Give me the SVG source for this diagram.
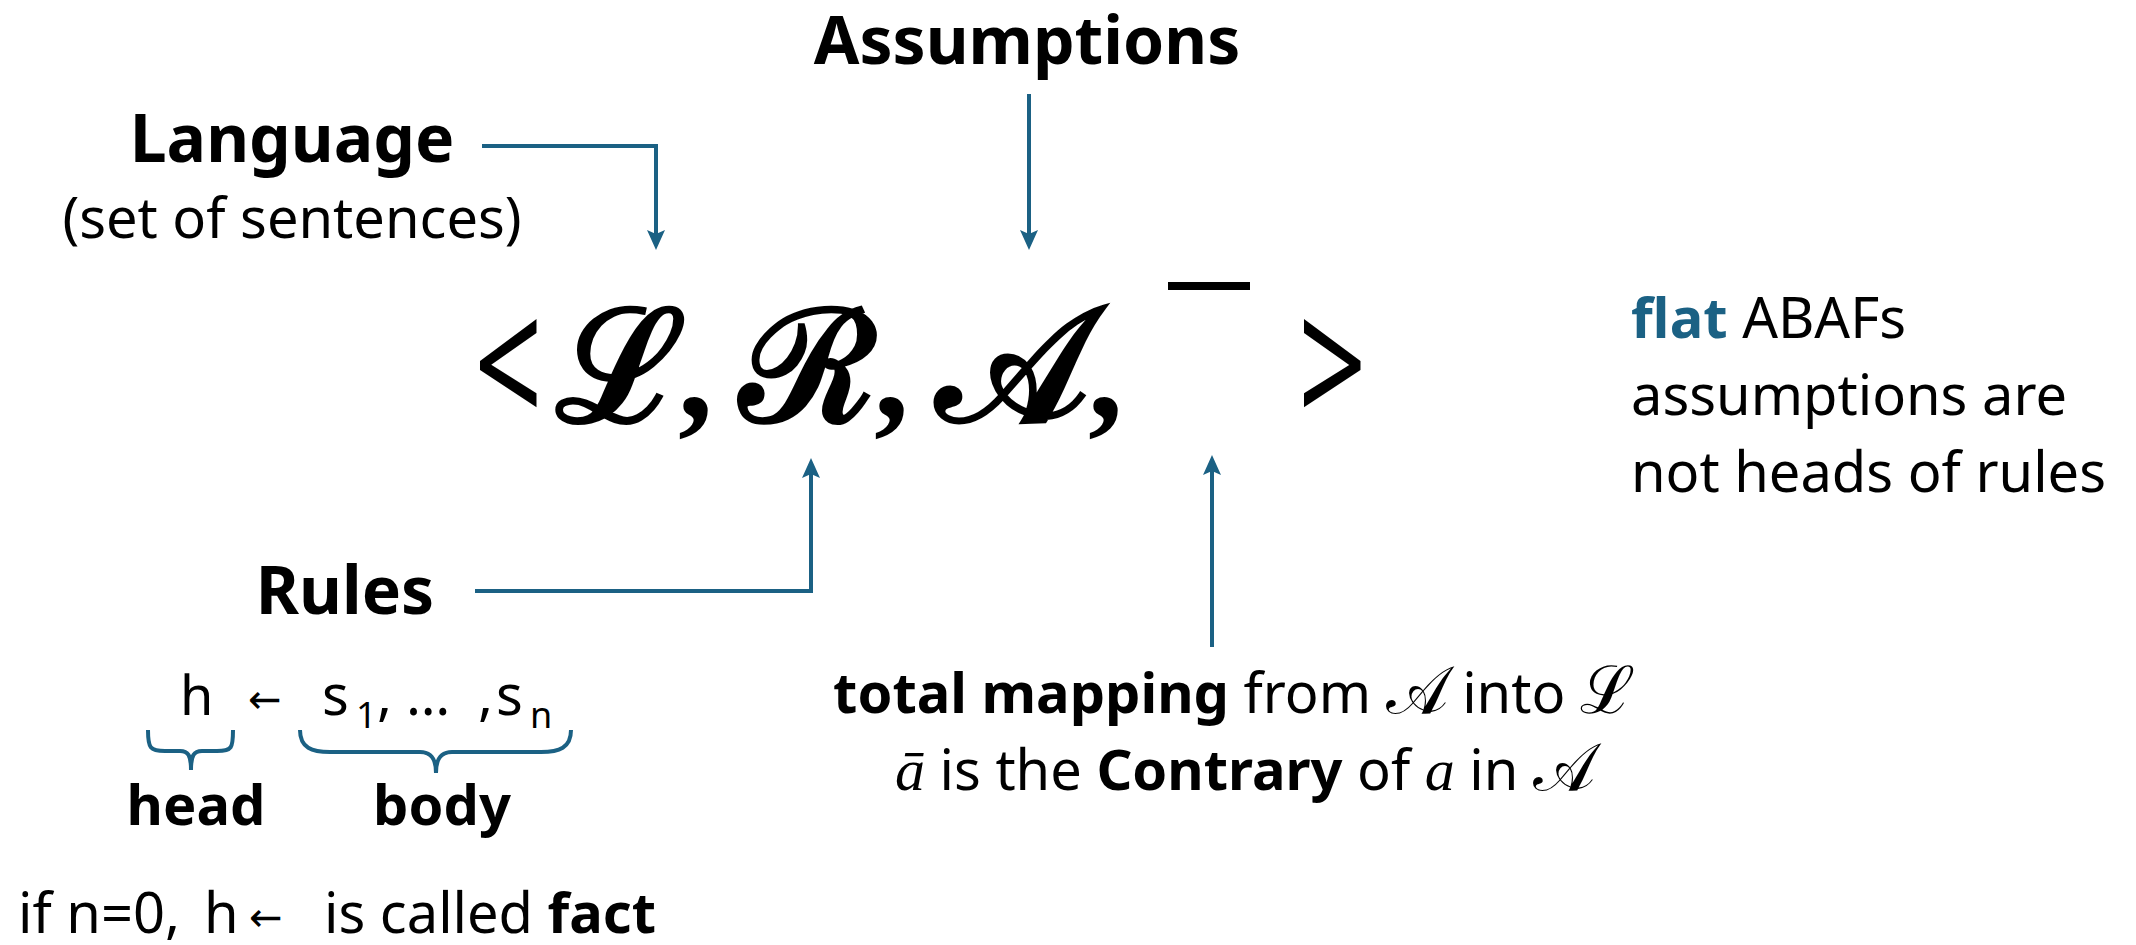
<svg xmlns="http://www.w3.org/2000/svg" width="2136" height="945" viewBox="0 0 2136 945">
<style>
.t{font-family:"Noto Sans","Liberation Sans",sans-serif;fill:#000}
.b{font-weight:bold}
.m{font-family:"DejaVu Serif","Noto Sans CJK SC",serif;fill:#000}
.sym{font-family:"DejaVu Sans",sans-serif;fill:#000}
.it{font-family:"Liberation Serif",serif;font-style:italic;fill:#000}
.cm{font-family:"Liberation Serif",serif;font-weight:bold;fill:#000}
.c{fill:none;stroke:#1B6184;stroke-width:4}
.br{fill:none;stroke:#1B6184;stroke-width:4;stroke-linecap:butt}
</style>
<defs>
<marker id="ah" markerUnits="userSpaceOnUse" markerWidth="22" markerHeight="20" viewBox="0 -10 22 20" refX="4" refY="0" orient="auto">
<path d="M20,0 L0,-9 L4,0 L0,9 Z" fill="#1B6184"/>
</marker>
</defs>
<rect width="2136" height="945" fill="#fff"/>
<g id="connectors">
<path class="c" d="M482,146 H656 V234" marker-end="url(#ah)"/>
<path class="c" d="M1029,94 V234" marker-end="url(#ah)"/>
<path class="c" d="M475,591 H811 V474" marker-end="url(#ah)"/>
<path class="c" d="M1212,647 V471" marker-end="url(#ah)"/>
</g>
<g id="assumptions"><text class="t b" x="1027" y="64" font-size="66" text-anchor="middle">Assumptions</text></g>
<g id="language">
<text class="t b" x="292" y="162" font-size="66" text-anchor="middle">Language</text>
<text class="t" x="292" y="238" font-size="56" text-anchor="middle">(set of sentences)</text>
</g>
<g id="tuple">
<text class="t" x="474" y="412" font-size="120" transform="translate(0,379) scale(1,1.5) translate(0,-379)">&lt;</text>
<text class="m" x="556" y="421" font-size="156" font-weight="bold">ℒ</text>
<text class="cm" x="678" y="418" font-size="140">,</text>
<text class="m" x="740" y="421" font-size="156" font-weight="bold">ℛ</text>
<text class="cm" x="874" y="418" font-size="140">,</text>
<text class="m" x="936" y="421" font-size="162" font-weight="bold">𝒜</text>
<text class="cm" x="1088" y="418" font-size="140">,</text>
<rect x="1168" y="282" width="82" height="8" fill="#000"/>
<text class="t" x="1298" y="412" font-size="120" transform="translate(0,379) scale(1,1.5) translate(0,-379)">&gt;</text>
</g>
<g id="rules">
<text class="t b" x="345" y="614" font-size="66" text-anchor="middle">Rules</text>
<text class="t" x="180" y="715" font-size="54">h</text>
<text class="sym" x="248" y="713" font-size="40">←</text>
<text class="t" x="322" y="715" font-size="56">s</text>
<text class="t" x="356" y="728" font-size="36">1</text>
<text class="t" x="377" y="715" font-size="56">,</text>
<text class="t" x="406" y="715" font-size="56">…</text>
<text class="t" x="478" y="715" font-size="56">,</text>
<text class="t" x="496" y="715" font-size="56">s</text>
<text class="t" x="530" y="728" font-size="36">n</text>
<path class="br" d="M148,730 C148,748 150,751 165,751 L180,751 C188,751 191,755 191,770 C191,755 194,751 202,751 L217,751 C232,751 233,748 233,730"/>
<path class="br" d="M300,730 C300,748 312,752 330,752 L420,752 C432,752 436,760 436,773 C436,760 440,752 452,752 L541,752 C559,752 571,748 571,730"/>
<text class="t b" x="196" y="825" font-size="56" text-anchor="middle">head</text>
<text class="t b" x="442" y="825" font-size="56" text-anchor="middle">body</text>
<text class="t" x="18" y="933" font-size="56">if n=0,</text>
<text class="t" x="204" y="933" font-size="56">h</text>
<text class="sym" x="249" y="931" font-size="40">←</text>
<text class="t" x="324" y="933" font-size="56">is called <tspan class="b">fact</tspan></text>
</g>
<g id="contrary">
<text class="t" x="1234" y="713" font-size="56" text-anchor="middle"><tspan class="b">total mapping</tspan> from <tspan class="m" font-size="66">𝒜</tspan> into <tspan class="m" font-size="66">ℒ</tspan></text>
<text class="t" x="1245" y="790" font-size="56" text-anchor="middle"><tspan class="it" font-size="60">ā</tspan>  is the <tspan class="b">Contrary</tspan> of <tspan class="it" font-size="60">a</tspan> in <tspan class="m" font-size="66">𝒜</tspan></text>
</g>
<g id="flat">
<text class="t" x="1631" y="338" font-size="56"><tspan class="b" fill="#1B6184">flat</tspan> ABAFs</text>
<text class="t" x="1631" y="415" font-size="56">assumptions are</text>
<text class="t" x="1631" y="492" font-size="56">not heads of rules</text>
</g>
</svg>
